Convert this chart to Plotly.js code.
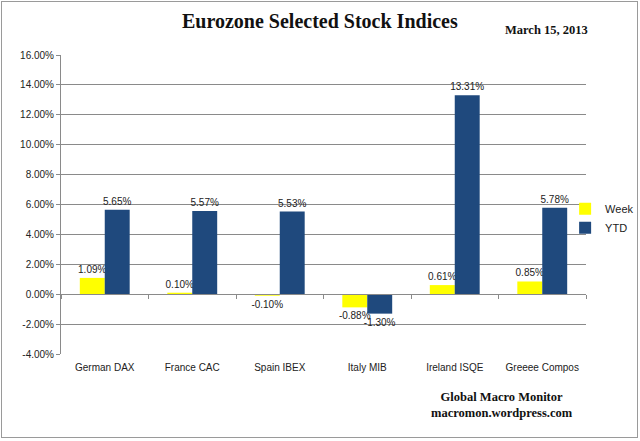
<!DOCTYPE html>
<html>
<head>
<meta charset="utf-8">
<script src="https://cdn.plot.ly/plotly-3.0.1.min.js"></script>
<style>
html,body{margin:0;padding:0;background:#fff;}
#wrap{position:relative;width:640px;height:441px;}
#chart{width:640px;height:441px;}
#frame{position:absolute;left:1px;top:1px;width:635px;height:435px;border:1px solid #9a9a9a;pointer-events:none;}
</style>
</head>
<body>
<div id="wrap"><div id="chart"></div><div id="frame"></div></div>
<script>
const categories = ["German DAX", "France CAC", "Spain IBEX", "Italy MIB", "Ireland ISQE", "Greeee Compos"];
const weekValues = [1.09, 0.10, -0.10, -0.88, 0.61, 0.85];
const ytdValues = [5.65, 5.57, 5.53, -1.30, 13.31, 5.78];
const yTickValues = [-4, -2, 0, 2, 4, 6, 8, 10, 12, 14, 16];
const seriesNames = ["Week", "YTD"];
const titleText = "Eurozone Selected Stock Indices";
const dateText = "March 15, 2013";
const footerLines = ["Global Macro Monitor", "macromon.wordpress.com"];

const labelFont = {family: "Liberation Sans, Arial, sans-serif", size: 10, color: "#222"};
const serif = "Liberation Serif, Times New Roman, serif";

const traces = [
  {type: "bar", name: seriesNames[0], x: categories, y: weekValues,
   marker: {color: "#FFFF00"},
   text: weekValues.map(v => v.toFixed(2) + "%"), textposition: "outside", constraintext: "none",
   textfont: labelFont, cliponaxis: false, hoverinfo: "skip"},
  {type: "bar", name: seriesNames[1], x: categories, y: ytdValues,
   marker: {color: "#1F497D"},
   text: ytdValues.map(v => v.toFixed(2) + "%"), textposition: "outside", constraintext: "none",
   textfont: labelFont, cliponaxis: false, hoverinfo: "skip"}
];

// overlay axis for category boundary ticks at the zero line
traces.push({type: "bar", x: categories, y: categories.map(() => 0), xaxis: "x2",
             showlegend: false, hoverinfo: "skip", marker: {color: "rgba(0,0,0,0)"}});

const layout = {
  width: 640, height: 441,
  margin: {l: 61, r: 54, t: 55, b: 87, autoexpand: false},
  paper_bgcolor: "#fff", plot_bgcolor: "#fff",
  barmode: "group", bargap: 0.43, bargroupgap: 0,
  showlegend: true,
  legend: {xref: "container", yref: "container", x: 0.883, y: 0.505, xanchor: "left", yanchor: "middle",
           font: {family: "Liberation Sans, Arial, sans-serif", size: 11, color: "#222"},
           itemwidth: 30, bgcolor: "rgba(0,0,0,0)"},
  xaxis: {type: "category", showline: false, ticks: "", showgrid: false,
          tickfont: labelFont, ticklabelstandoff: 6, fixedrange: true},
  xaxis2: {type: "category", overlaying: "x", matches: "x", anchor: "free", position: 0.2,
           side: "bottom", showline: true, linecolor: "#8a8a8a", linewidth: 1,
           ticks: "outside", tickson: "boundaries", ticklen: 4, tickcolor: "#8a8a8a",
           showticklabels: false, showgrid: false},
  yaxis: {range: [-4, 16], tickvals: yTickValues,
          ticktext: yTickValues.map(v => v.toFixed(2) + "%"),
          showgrid: true, gridcolor: "#8a8a8a", gridwidth: 1,
          zeroline: false, showline: true, linecolor: "#8a8a8a",
          ticks: "outside", ticklen: 4, tickcolor: "#8a8a8a",
          tickfont: labelFont, fixedrange: true},
  annotations: [
    {text: "<b>" + titleText + "</b>", xref: "paper", yref: "paper", x: 0.493, y: 1.07,
     xanchor: "center", yanchor: "bottom", showarrow: false,
     font: {family: serif, size: 20, color: "#111"}},
    {text: "<b>" + dateText + "</b>", xref: "paper", yref: "paper", x: 1.008, y: 1.055,
     xanchor: "right", yanchor: "bottom", showarrow: false,
     font: {family: serif, size: 12.5, color: "#111"}},
    {text: "<b>" + footerLines.join("<br>") + "</b>", xref: "paper", yref: "paper", x: 0.84, y: -0.115,
     xanchor: "center", yanchor: "top", showarrow: false, align: "center",
     font: {family: serif, size: 12.5, color: "#111"}}
  ]
};

Plotly.newPlot("chart", traces, layout, {staticPlot: true, displayModeBar: false});
</script>
</body>
</html>
